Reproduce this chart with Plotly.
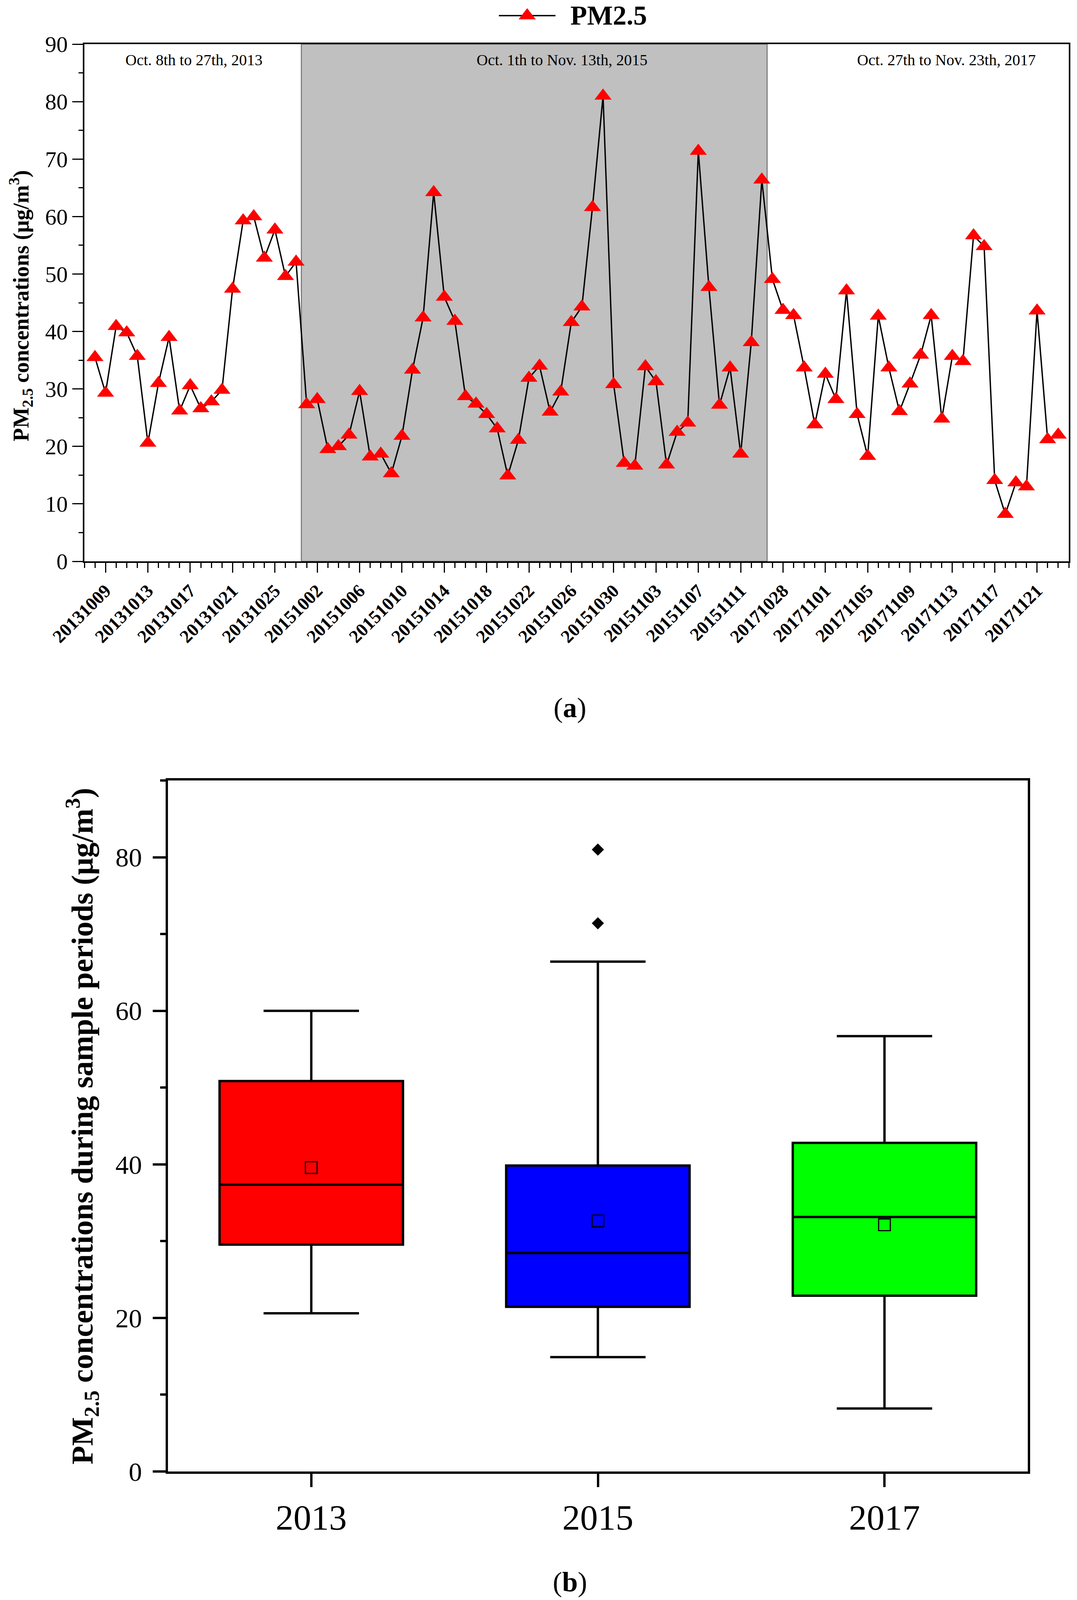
import numpy as np
import pandas as pd
import plotly.graph_objects as go

# ---- data ----
pm25_2013 = [35.5, 29.3, 40.9, 39.8, 35.7, 20.6, 31.0, 39.0, 26.2, 30.6,
             26.6, 27.8, 29.8, 47.4, 59.3, 60.0, 52.8, 57.7, 49.6, 52.1]
pm25_2015 = [27.3, 28.2, 19.5, 20.0, 22.0, 29.6, 18.2, 18.7, 15.3, 21.8,
             33.3, 42.4, 64.2, 46.0, 41.8, 28.7, 27.4, 25.6, 23.1, 14.9,
             21.1, 31.9, 34.0, 26.0, 29.5, 41.6, 44.3, 61.6, 81.0, 30.8,
             17.1, 16.6, 33.9, 31.3, 16.8, 22.5, 24.1, 71.4, 47.7, 27.2,
             33.7, 18.7, 38.1, 66.4]
pm25_2017 = [49.1, 43.7, 42.8, 33.7, 23.8, 32.6, 28.2, 47.1, 25.6, 18.3,
             42.7, 33.7, 26.1, 30.9, 35.9, 42.8, 24.8, 35.7, 34.8, 56.7,
             54.8, 14.1, 8.2, 13.7, 13.0, 43.6, 21.2, 22.0]

days = (list(pd.date_range("2013-10-08", "2013-10-27").strftime("%Y%m%d"))
        + list(pd.date_range("2015-10-01", "2015-11-13").strftime("%Y%m%d"))
        + list(pd.date_range("2017-10-27", "2017-11-23").strftime("%Y%m%d")))
tick_labels = ["20131009", "20131013", "20131017", "20131021", "20131025",
               "20151002", "20151006", "20151010", "20151014", "20151018",
               "20151022", "20151026", "20151030", "20151103", "20151107",
               "20151111", "20171028", "20171101", "20171105", "20171109",
               "20171113", "20171117", "20171121"]
period_labels = ["Oct. 8th to 27th, 2013", "Oct. 1th to Nov. 13th, 2015",
                 "Oct. 27th to Nov. 23th, 2017"]
years = ["2013", "2015", "2017"]
box_colors = ["#FF0000", "#0000FF", "#00FF00"]

pm25 = pm25_2013 + pm25_2015 + pm25_2017
idx = list(range(len(pm25)))

W, H = 2757, 4129
FONT = "Liberation Serif"


def px(x):
    return x / W


def py(y):
    return 1 - y / H


fig = go.Figure()

# (a) time series
fig.add_trace(go.Scatter(
    x=idx, y=pm25, mode="lines+markers", name="PM2.5",
    line=dict(color="black", width=3.5),
    marker=dict(symbol="triangle-up", size=38, color="#FF0000"),
    xaxis="x", yaxis="y", showlegend=False,
))

# (b) box plots
groups = [pm25_2013, pm25_2015, pm25_2017]
for yr, vals, col in zip(years, groups, box_colors):
    fig.add_trace(go.Box(
        x=[yr] * len(vals), y=vals, name=yr,
        fillcolor=col, line=dict(color="black", width=6),
        boxpoints="outliers", pointpos=0, jitter=0,
        marker=dict(symbol="diamond", size=24, color="black"),
        quartilemethod="exclusive", whiskerwidth=0.52, width=0.64,
        xaxis="x2", yaxis="y2", showlegend=False,
    ))
fig.add_trace(go.Scatter(
    x=years, y=[float(np.mean(v)) for v in groups], mode="markers",
    marker=dict(symbol="square-open", size=30, color="black", line=dict(width=3)),
    xaxis="x2", yaxis="y2", showlegend=False,
))

# shaded 2015 period
n13, n15 = len(pm25_2013), len(pm25_2015)
shapes = [dict(type="rect", xref="x", yref="y", x0=n13 - 0.5, x1=n13 + n15 - 0.5,
               y0=0, y1=90, fillcolor="#C0C0C0", line=dict(color="#808080", width=3),
               layer="below")]

# hand-made legend (long line with a triangle in the middle)
lx0, lx1, ly = 1277, 1422, 40
shapes.append(dict(type="line", xref="paper", yref="paper",
                   x0=px(lx0), x1=px(lx1), y0=py(ly), y1=py(ly),
                   line=dict(color="black", width=3.5)))
cx, r = (lx0 + lx1) / 2, 19
rt, rs = r * 2 / np.sqrt(3), r / 2
tri = [(cx - rt, ly + rs), (cx + rt, ly + rs), (cx, ly - r)]
path = "M" + " L".join(f"{px(a):.5f},{py(b):.5f}" for a, b in tri) + " Z"
shapes.append(dict(type="path", xref="paper", yref="paper", path=path,
                   fillcolor="#FF0000", line=dict(width=0)))


def note(text, x, y, size, angle=0, xanchor="center"):
    return dict(text=text, x=px(x), y=py(y), xref="paper", yref="paper",
                xanchor=xanchor, yanchor="middle", textangle=angle, showarrow=False,
                font=dict(family=FONT, size=size, color="black"))


annotations = [note("<b>PM2.5</b>", 1458, ly, 70, xanchor="left")]
for lab, xp in zip(period_labels, [496, 1438, 2422]):
    annotations.append(note(lab, xp, 153, 40))
annotations += [
    note("<b>PM<sub>2.5</sub> concentrations (μg/m<sup>3</sup>)</b>", 53, 783, 56, angle=-90),
    note("<b>PM<sub>2.5</sub> concentrations during sample periods (μg/m<sup>3</sup>)</b>",
         210, 2883, 78, angle=-90),
    note("(<b>a</b>)", 1459, 1812, 72),
    note("(<b>b</b>)", 1459, 4050, 72),
]

fig.update_layout(
    width=W, height=H,
    margin=dict(l=0, r=0, t=0, b=0),
    paper_bgcolor="white", plot_bgcolor="white",
    font=dict(family=FONT, color="black"),
    showlegend=False,
    boxmode="overlay",
    shapes=shapes,
    annotations=annotations,
    xaxis=dict(
        domain=[px(216), px(2736)], anchor="y", range=[-1, len(pm25)],
        tickmode="array", tickvals=[days.index(t) for t in tick_labels],
        ticktext=tick_labels, tickangle=-45,
        tickfont=dict(family=FONT, size=47, color="black", weight="bold"),
        ticks="outside", ticklen=25, tickwidth=3, tickcolor="black",
        minor=dict(tickmode="linear", tick0=0, dtick=1, ticks="outside",
                   ticklen=13, tickwidth=3, tickcolor="black"),
        showline=True, linecolor="black", linewidth=4, mirror=True,
        showgrid=False, zeroline=False, automargin=False,
    ),
    yaxis=dict(
        domain=[py(1437), py(113)], anchor="x", range=[0, 90],
        tickmode="linear", tick0=0, dtick=10,
        tickfont=dict(family=FONT, size=58, color="black"),
        ticks="outside", ticklen=27, tickwidth=3, tickcolor="black",
        minor=dict(tickmode="linear", tick0=0, dtick=5, ticks="outside",
                   ticklen=11, tickwidth=3, tickcolor="black"),
        showline=True, linecolor="black", linewidth=4, mirror=True,
        showgrid=False, zeroline=False, automargin=False,
    ),
    xaxis2=dict(
        domain=[px(430), px(2631)], anchor="y2", type="category",
        categoryorder="array", categoryarray=years, range=[-0.5, 2.5],
        tickfont=dict(family=FONT, size=91, color="black"),
        ticks="outside", ticklen=34, tickwidth=6, tickcolor="black",
        showline=True, linecolor="black", linewidth=6, mirror=True,
        showgrid=False, zeroline=False, automargin=False,
    ),
    yaxis2=dict(
        domain=[py(3767), py(1998)], anchor="x2", range=[0, 90],
        tickmode="linear", tick0=0, dtick=20,
        tickfont=dict(family=FONT, size=68, color="black"),
        ticks="outside", ticklen=33, tickwidth=6, tickcolor="black",
        ticklabelstandoff=14,
        minor=dict(tickmode="linear", tick0=0, dtick=10, ticks="outside",
                   ticklen=14, tickwidth=6, tickcolor="black"),
        showline=True, linecolor="black", linewidth=6, mirror=True,
        showgrid=False, zeroline=False, automargin=False,
    ),
)

# drop the browser's default 8px body margin so the figure sits at the page origin
fig.write_html("out.html", config={"displayModeBar": False},
               post_script="document.body.style.margin = '0px';")
